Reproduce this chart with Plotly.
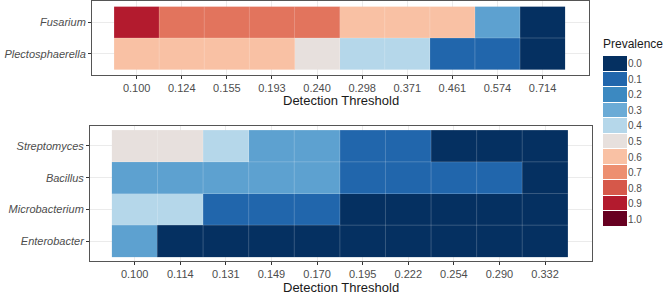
import plotly.graph_objects as go

W, H = 666, 295

# ---------------- data ----------------
top_thresholds = ["0.100", "0.124", "0.155", "0.193", "0.240", "0.298", "0.371", "0.461", "0.574", "0.714"]
top_taxa = ["Fusarium", "Plectosphaerella"]
top_prev = [
    [0.90, 0.75, 0.75, 0.75, 0.75, 0.60, 0.60, 0.60, 0.27, 0.00],  # Fusarium
    [0.60, 0.60, 0.60, 0.60, 0.50, 0.40, 0.40, 0.10, 0.10, 0.00],  # Plectosphaerella
]

bot_thresholds = ["0.100", "0.114", "0.131", "0.149", "0.170", "0.195", "0.222", "0.254", "0.290", "0.332"]
bot_taxa = ["Streptomyces", "Bacillus", "Microbacterium", "Enterobacter"]
bot_prev = [
    [0.50, 0.50, 0.40, 0.27, 0.27, 0.10, 0.10, 0.00, 0.00, 0.00],  # Streptomyces
    [0.27, 0.27, 0.27, 0.27, 0.27, 0.10, 0.10, 0.10, 0.10, 0.00],  # Bacillus
    [0.40, 0.40, 0.10, 0.10, 0.10, 0.00, 0.00, 0.00, 0.00, 0.00],  # Microbacterium
    [0.27, 0.00, 0.00, 0.00, 0.00, 0.00, 0.00, 0.00, 0.00, 0.00],  # Enterobacter
]

legend_levels = [0.0, 0.1, 0.2, 0.3, 0.4, 0.5, 0.6, 0.7, 0.8, 0.9, 1.0]
legend_labels = ["0.0", "0.1", "0.2", "0.3", "0.4", "0.5", "0.6", "0.7", "0.8", "0.9", "1.0"]
palette = ["#053061", "#2166AC", "#3C89C1", "#6BABD6", "#B5D7EA", "#E7E0DD",
           "#F9C1A4", "#ED8F70", "#D6584A", "#B31B2E", "#670021"]

colorscale = [[lv, c] for lv, c in zip(legend_levels, palette)]

# ---------------- layout helpers ----------------
def px_x(x):
    return x / W

def px_y(y):
    return 1 - y / H

fig = go.Figure()

grid_col = "#EBEBEB"
frame_col = "#555555"
tick_font = dict(family="Liberation Sans, Arial, sans-serif", size=11, color="#4D4D4D")
border_col = "rgba(255,255,255,0.2)"


def add_panel(xa, ya, thresholds, taxa, prev):
    nx, ny = len(thresholds), len(taxa)
    fig.add_trace(go.Heatmap(
        z=prev, x=list(range(nx)), y=list(range(ny)),
        colorscale=colorscale, zmin=0, zmax=1, showscale=False,
        xaxis=xa, yaxis=ya, hoverinfo="skip",
    ))
    # faint tile borders
    bx, by = [], []
    for i in range(1, nx):
        bx += [i - 0.5, i - 0.5, None]
        by += [-0.5, ny - 0.5, None]
    for j in range(1, ny):
        bx += [-0.5, nx - 0.5, None]
        by += [j - 0.5, j - 0.5, None]
    fig.add_trace(go.Scatter(x=bx, y=by, mode="lines",
                             line=dict(color=border_col, width=1),
                             xaxis=xa, yaxis=ya, hoverinfo="skip", showlegend=False))


add_panel("x", "y", top_thresholds, top_taxa, top_prev)
add_panel("x2", "y2", bot_thresholds, bot_taxa, bot_prev)

# legend as a stacked heatmap
fig.add_trace(go.Heatmap(
    z=[[lv] for lv in legend_levels], x=[0], y=list(range(len(legend_levels))),
    colorscale=colorscale, zmin=0, zmax=1, showscale=False,
    xaxis="x3", yaxis="y3", hoverinfo="skip", ygap=1,
))

axis_common = dict(
    showline=True, mirror=True, linecolor=frame_col, linewidth=1,
    showgrid=True, gridcolor=grid_col, gridwidth=1, zeroline=False,
    ticks="outside", ticklen=3, tickcolor="#333333", tickfont=tick_font,
)

italic_font = dict(family="Liberation Sans, Arial, sans-serif", size=11, color="#4D4D4D", style="italic")

fig.update_layout(
    width=W, height=H,
    margin=dict(l=0, r=0, t=0, b=0),
    paper_bgcolor="white", plot_bgcolor="white",
    showlegend=False,
    xaxis=dict(axis_common, domain=[px_x(92), px_x(589)], anchor="y",
               range=[-0.99, len(top_thresholds) - 0.5 + 0.53],
               tickvals=list(range(len(top_thresholds))), ticktext=top_thresholds),
    yaxis=dict(axis_common, domain=[px_y(75), px_y(1)], anchor="x",
               range=[len(top_taxa) - 0.5 + 0.18, -0.5 - 0.18],
               tickvals=list(range(len(top_taxa))), ticktext=top_taxa, tickfont=italic_font),
    xaxis2=dict(axis_common, domain=[px_x(90), px_x(592)], anchor="y2",
                range=[-0.98, len(bot_thresholds) - 0.5 + 0.53],
                tickvals=list(range(len(bot_thresholds))), ticktext=bot_thresholds),
    yaxis2=dict(axis_common, domain=[px_y(261), px_y(126)], anchor="x2",
                range=[len(bot_taxa) - 0.5 + 0.13, -0.5 - 0.13],
                tickvals=list(range(len(bot_taxa))), ticktext=bot_taxa, tickfont=italic_font),
    xaxis3=dict(domain=[px_x(603), px_x(627)], anchor="y3", range=[-0.5, 0.5],
                showgrid=False, zeroline=False, showline=False, showticklabels=False, ticks=""),
    yaxis3=dict(domain=[px_y(227), px_y(56)], anchor="x3", side="right",
                range=[len(legend_levels) - 0.5, -0.5],
                tickvals=list(range(len(legend_levels))), ticktext=legend_labels,
                showgrid=False, zeroline=False, showline=False, ticks="",
                tickfont=dict(family="Liberation Sans, Arial, sans-serif", size=10, color="#4D4D4D")),
)

title_font = dict(family="Liberation Sans, Arial, sans-serif", size=13, color="#1A1A1A")
fig.add_annotation(text="Detection Threshold", xref="paper", yref="paper",
                   x=px_x((92 + 589) / 2), y=px_y(101), xanchor="center", yanchor="middle",
                   showarrow=False, font=title_font)
fig.add_annotation(text="Detection Threshold", xref="paper", yref="paper",
                   x=px_x((90 + 592) / 2), y=px_y(287), xanchor="center", yanchor="middle",
                   showarrow=False, font=title_font)
fig.add_annotation(text="Prevalence", xref="paper", yref="paper",
                   x=px_x(601), y=px_y(44), xanchor="left", yanchor="middle",
                   showarrow=False, font=dict(family="Liberation Sans, Arial, sans-serif",
                                              size=12, color="#1A1A1A"))

fig.write_html("out.html")
